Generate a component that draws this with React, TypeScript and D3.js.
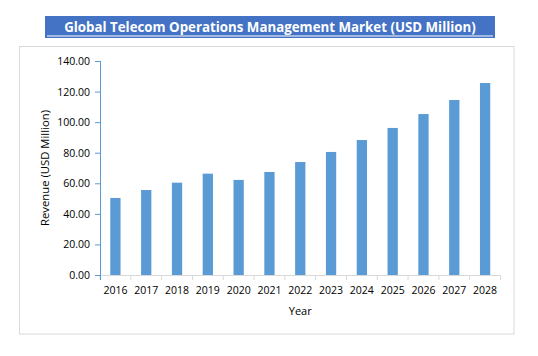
import React from "react";
import * as d3 from "d3";

const years = ["2016","2017","2018","2019","2020","2021","2022","2023","2024","2025","2026","2027","2028"];
const revenue = [50.4, 55.6, 60.4, 66.3, 62.2, 67.4, 73.9, 80.5, 88.3, 96.2, 105.3, 114.5, 125.6];
const yTicks = [0, 20, 40, 60, 80, 100, 120, 140];

const W = 538, H = 356;
const left = 100, right = 500.5, top = 61, bottom = 275;
const font = "'Open Sans', 'DejaVu Sans', sans-serif";

export default function App() {
  const x = d3.scaleBand<string>().domain(years).range([left, right]).paddingInner(2 / 3).paddingOuter(1 / 3);
  const y = d3.scaleLinear().domain([0, 140]).range([bottom, top]);
  const step = x.step();
  return (
    <svg width={W} height={H} style={{ position: "absolute", left: 0, top: 0, background: "#fff" }}>
      <rect x={19.5} y={46.5} width={494.5} height={287.5} fill="#fff" stroke="#d9d9d9" strokeWidth={1} />
      <rect x={45} y={16} width={450} height={22} fill="#4472C4" />
      <line x1={47} x2={493} y1={36} y2={36} stroke="#fff" strokeWidth={1} />
      <text x={270} y={31.5} textAnchor="middle" fill="#fff" fontFamily={font} fontWeight="bold" fontSize={13.3}>
        Global Telecom Operations Management Market (USD Million)
      </text>
      {revenue.map((v, i) => (
        <rect key={years[i]} x={x(years[i])!} y={y(v)} width={x.bandwidth()} height={bottom - y(v)} fill="#5B9BD5" />
      ))}
      {/* x axis */}
      <line x1={left} x2={right} y1={bottom + 0.5} y2={bottom + 0.5} stroke="#d9d9d9" />
      {d3.range(years.length + 1).map((i) => (
        <line key={i} x1={left + i * step} x2={left + i * step} y1={bottom} y2={bottom + 5} stroke="#d9d9d9" />
      ))}
      {years.map((yr) => (
        <text key={yr} x={x(yr)! + x.bandwidth() / 2} y={294} textAnchor="middle" fontFamily={font} fontSize={10.5} fill="#000">
          {yr}
        </text>
      ))}
      <text x={(left + right) / 2} y={315} textAnchor="middle" fontFamily={font} fontSize={11} fill="#000">Year</text>
      {/* y axis */}
      <line x1={left + 0.5} x2={left + 0.5} y1={top} y2={bottom + 5} stroke="#5B9BD5" />
      {yTicks.map((t) => (
        <g key={t}>
          <line x1={left - 5} x2={left} y1={y(t) + 0.5} y2={y(t) + 0.5} stroke="#5B9BD5" />
          <text x={left - 10} y={y(t) + 4} textAnchor="end" fontFamily={font} fontSize={10.5} fill="#000">
            {t.toFixed(2)}
          </text>
        </g>
      ))}
      <text transform={`translate(49,${(top + bottom) / 2}) rotate(-90)`} textAnchor="middle" fontFamily={font} fontSize={11.3} fill="#000">
        Revenue  (USD Million)
      </text>
    </svg>
  );
}
